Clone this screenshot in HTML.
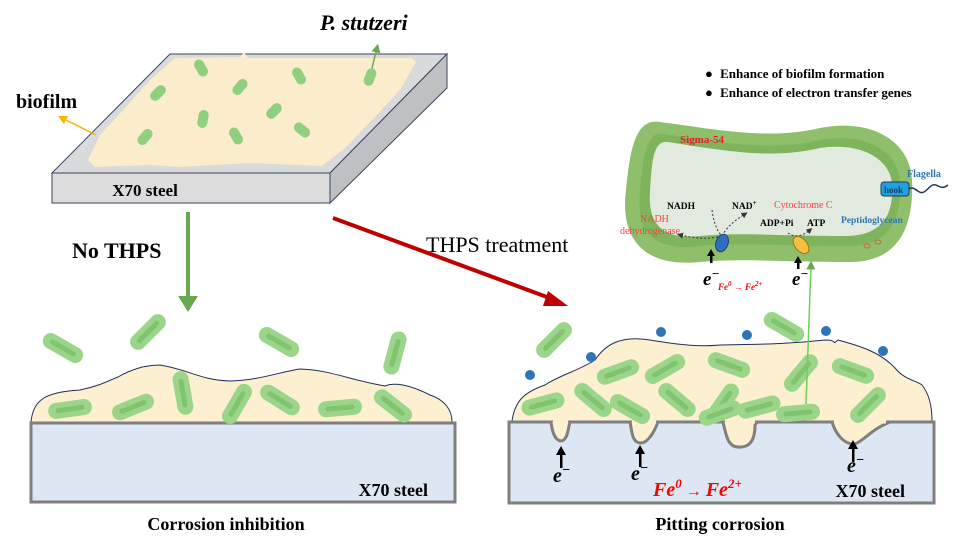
<!DOCTYPE html>
<html><head><meta charset="utf-8"><style>
html,body{margin:0;padding:0;background:#fff;width:973px;height:547px;overflow:hidden}
svg{display:block}
text{font-family:"Liberation Serif",serif;font-weight:bold}
</style></head><body>
<svg width="973" height="547" viewBox="0 0 973 547" xmlns="http://www.w3.org/2000/svg">
<defs>
<marker id="ag" markerWidth="6" markerHeight="6" refX="3" refY="3" orient="auto"><path d="M0,0L6,3L0,6z" fill="#6aa84f"/></marker>
<marker id="ay" markerWidth="6" markerHeight="6" refX="3" refY="3" orient="auto"><path d="M0,0L6,3L0,6z" fill="#f5b800"/></marker>
<marker id="ad" markerWidth="6" markerHeight="6" refX="3" refY="3" orient="auto"><path d="M0,0L6,3L0,6z" fill="#334"/></marker>
<g id="b"><line x1="-14" y1="0" x2="14" y2="0" stroke="#9ad58a" stroke-width="16" stroke-linecap="round"/><line x1="-12" y1="0" x2="12" y2="0" stroke="#80c46f" stroke-width="5" stroke-linecap="round"/></g>
<g id="s"><line x1="-4" y1="0" x2="4" y2="0" stroke="#8fd07f" stroke-width="10" stroke-linecap="round"/></g>
</defs>

<!-- top plate -->
<polygon points="170,54 447,54 330,173 52,173" fill="#d9dadc" stroke="#3a4660" stroke-width="1"/>
<polygon points="330,173 447,54 447,88 330,203" fill="#bfc0c2" stroke="#3a4660" stroke-width="1"/>
<rect x="52" y="173" width="278" height="30" fill="#dcdcdd" stroke="#3a4660" stroke-width="1"/>
<path d="M175,58 L240,57 L244,52 L248,58 L412,58 L416,62 L400,90 L370,122 L345,148 L322,166 L250,163 L180,167 L150,165 L95,167 L88,160 L100,135 L125,108 L150,80 Z" fill="#fbeccb"/>
<text x="145" y="196" font-size="17" text-anchor="middle">X70 steel</text>
<text x="16" y="108" font-size="20">biofilm</text>
<line x1="96" y1="135" x2="62" y2="118" stroke="#f5b800" stroke-width="1.5" marker-end="url(#ay)"/>
<text x="320" y="30" font-size="22" font-style="italic">P. stutzeri</text>
<line x1="370" y1="76" x2="377" y2="48" stroke="#6aa84f" stroke-width="1.5" marker-end="url(#ag)"/>
<use href="#s" transform="translate(201,68) rotate(60)"/><use href="#s" transform="translate(240,87) rotate(-50)"/>
<use href="#s" transform="translate(299,76) rotate(60)"/><use href="#s" transform="translate(370,77) rotate(-70)"/>
<use href="#s" transform="translate(158,93) rotate(-45)"/><use href="#s" transform="translate(203,119) rotate(-80)"/>
<use href="#s" transform="translate(274,111) rotate(-45)"/><use href="#s" transform="translate(145,137) rotate(-50)"/>
<use href="#s" transform="translate(236,136) rotate(60)"/><use href="#s" transform="translate(302,130) rotate(40)"/>

<!-- arrows -->
<line x1="188" y1="212" x2="188" y2="300" stroke="#6aa84f" stroke-width="4"/>
<polygon points="178,296 198,296 188,312" fill="#6aa84f"/>
<text x="72" y="258" font-size="22">No THPS</text>
<line x1="333" y1="218" x2="555" y2="300" stroke="#c00000" stroke-width="4"/>
<polygon points="548,291 568,306 543,306" fill="#c00000"/>
<text x="426" y="252" font-size="22" style="font-weight:normal">THPS treatment</text>

<!-- left panel -->
<path d="M31,422 C33,400 45,392 80,390 C100,386 110,380 118,377 C130,370 145,365 160,365 C190,370 200,380 230,381 C260,380 280,372 300,369 C330,370 350,380 385,386 C395,382 410,385 430,395 C445,400 452,410 452,422 Z" fill="#fdf0d0" stroke="#1f2f5a" stroke-width="1"/>
<rect x="31" y="423" width="424" height="79" fill="#dce7f3" stroke="#7f7f7f" stroke-width="3"/>
<text x="428" y="496" font-size="18" text-anchor="end">X70 steel</text>
<text x="226" y="530" font-size="18" text-anchor="middle">Corrosion inhibition</text>
<use href="#b" transform="translate(63,348) rotate(30)"/><use href="#b" transform="translate(148,332) rotate(-45)"/>
<use href="#b" transform="translate(279,342) rotate(30)"/><use href="#b" transform="translate(395,353) rotate(-75)"/>
<use href="#b" transform="translate(70,409) rotate(-8)"/><use href="#b" transform="translate(133,407) rotate(-22)"/>
<use href="#b" transform="translate(183,393) rotate(80)"/><use href="#b" transform="translate(237,404) rotate(-60)"/>
<use href="#b" transform="translate(280,400) rotate(32)"/><use href="#b" transform="translate(340,408) rotate(-5)"/>
<use href="#b" transform="translate(393,406) rotate(38)"/>

<!-- right panel -->
<path d="M512,421 C515,400 525,392 545,385 C560,375 580,370 595,360 C605,345 620,335 650,340 C680,345 700,347 720,345 C750,344 780,345 825,340 C840,340 830,346 838,340 C860,346 880,352 895,368 C905,380 915,380 922,385 C930,395 932,410 932,421 Z" fill="#fdf0d0" stroke="#1f2f5a" stroke-width="1"/>
<rect x="509" y="422" width="425" height="81" fill="#dce7f3" stroke="#7f7f7f" stroke-width="3"/>
<g fill="#fdf0d0" stroke="#7f7f7f" stroke-width="3">
<path d="M551,422 C552,430 554,440 561,441 C568,440 568,428 570,422"/>
<path d="M630,422 C632,432 632,442 640,443 C648,444 655,430 658,422"/>
<path d="M723,422 C726,435 728,447 738,447 C750,448 755,440 755,425 L757,422"/>
<path d="M832,422 C836,435 845,445 855,444 C865,440 870,430 890,422"/>
</g>
<g stroke="#fdf0d0" stroke-width="3"><line x1="553" y1="422" x2="568" y2="422"/><line x1="632" y1="422" x2="656" y2="422"/><line x1="725" y1="422" x2="755" y2="422"/><line x1="834" y1="422" x2="886" y2="422"/></g>
<use href="#b" transform="translate(554,340) rotate(-45)"/><use href="#b" transform="translate(784,327) rotate(30)"/>
<use href="#b" transform="translate(543,404) rotate(-15)"/><use href="#b" transform="translate(593,400) rotate(40)"/>
<use href="#b" transform="translate(630,409) rotate(30)"/><use href="#b" transform="translate(618,372) rotate(-20)"/>
<use href="#b" transform="translate(677,400) rotate(40)"/><use href="#b" transform="translate(665,369) rotate(-30)"/>
<use href="#b" transform="translate(729,365) rotate(20)"/><use href="#b" transform="translate(723,403) rotate(-55)"/>
<use href="#b" transform="translate(759,407) rotate(-15)"/><use href="#b" transform="translate(798,413) rotate(-5)"/>
<use href="#b" transform="translate(801,373) rotate(-50)"/><use href="#b" transform="translate(853,371) rotate(20)"/>
<use href="#b" transform="translate(868,405) rotate(-45)"/><use href="#b" transform="translate(720,413) rotate(-20)"/>
<g fill="#2f75b5"><circle cx="530" cy="375" r="5"/><circle cx="591" cy="357" r="5"/><circle cx="661" cy="332" r="5"/><circle cx="747" cy="335" r="5"/><circle cx="826" cy="331" r="5"/><circle cx="883" cy="351" r="5"/></g>
<line x1="806" y1="404" x2="811" y2="265" stroke="#6ccf5a" stroke-width="1.5" marker-end="url(#ag)"/>
<g fill="#000"><polygon points="561,446 556,455 566,455"/><rect x="560" y="454" width="2.5" height="14"/>
<polygon points="640,445 635,454 645,454"/><rect x="639" y="453" width="2.5" height="14"/>
<polygon points="853,440 848,449 858,449"/><rect x="852" y="448" width="2.5" height="14"/></g>
<text x="553" y="482" font-size="20" font-style="italic">e<tspan dy="-8" font-size="14">−</tspan></text>
<text x="631" y="480" font-size="20" font-style="italic">e<tspan dy="-8" font-size="14">−</tspan></text>
<text x="847" y="472" font-size="20" font-style="italic">e<tspan dy="-8" font-size="14">−</tspan></text>
<text x="653" y="496" font-size="20" font-style="italic" fill="#ff0000">Fe<tspan dy="-8" font-size="13">0</tspan><tspan dy="8" font-style="normal" font-size="16"> → </tspan>Fe<tspan dy="-8" font-size="13">2+</tspan></text>
<text x="905" y="497" font-size="18" text-anchor="end">X70 steel</text>
<text x="720" y="530" font-size="18" text-anchor="middle">Pitting corrosion</text>

<!-- cell -->
<text x="705" y="78" font-size="13">● <tspan dx="4">Enhance of biofilm formation</tspan></text>
<text x="705" y="97" font-size="13">● <tspan dx="4">Enhance of electron transfer genes</tspan></text>
<path d="M660,122 C720,130 770,140 820,128 C870,118 910,140 912,180 C914,225 900,262 850,262 C780,262 740,258 700,262 C640,268 620,235 626,190 C630,150 635,118 660,122 Z" fill="#8fbf6a"/>
<path d="M664,134 C720,142 770,152 820,140 C865,132 898,150 900,182 C902,218 890,246 848,246 C780,246 740,242 700,246 C650,252 636,228 640,192 C643,160 645,130 664,134 Z" fill="#7fb45c"/>
<path d="M668,142 C720,150 770,160 820,148 C860,142 890,158 892,184 C894,215 882,236 845,236 C780,236 740,232 700,236 C660,240 648,222 650,192 C652,165 652,140 668,142 Z" fill="#e2eadf"/>
<text x="680" y="143" font-size="11" fill="#e8202a">Sigma-54</text>
<text x="907" y="177" font-size="10" fill="#2f75b5">Flagella</text>
<rect x="881" y="182" width="28" height="14" rx="3" fill="#1da1e0" stroke="#1f3a5a"/>
<text x="884" y="193" font-size="9" fill="#1f3a5a">hook</text>
<path d="M909,189 C915,185 918,195 924,192 C930,188 932,182 938,186 C942,188 944,188 948,185" stroke="#1f3a5a" stroke-width="1.5" fill="none"/>
<text x="667" y="209" font-size="9.5">NADH</text>
<text x="732" y="209" font-size="9.5">NAD<tspan dy="-4" font-size="7">+</tspan></text>
<text x="774" y="208" font-size="10" fill="#ff4040" style="font-weight:normal">Cytochrome C</text>
<text x="841" y="223" font-size="9.5" fill="#2f75b5">Peptidoglycean</text>
<text x="640" y="222" font-size="10" fill="#ff4040" style="font-weight:normal">NADH</text>
<text x="620" y="234" font-size="10" fill="#ff4040" style="font-weight:normal">dehydrogenase</text>
<text x="760" y="226" font-size="9.5">ADP+Pi</text>
<text x="807" y="226" font-size="9.5">ATP</text>
<path d="M712,210 C714,225 718,232 722,236" stroke="#334" stroke-dasharray="2,2" fill="none"/>
<path d="M722,236 C728,225 736,220 745,214" stroke="#334" stroke-dasharray="2,2" fill="none" marker-end="url(#ad)"/>
<path d="M722,236 C705,240 695,238 680,235" stroke="#334" stroke-dasharray="2,2" fill="none" marker-end="url(#ad)"/>
<path d="M788,233 C795,238 803,236 810,230" stroke="#334" stroke-dasharray="2,2" fill="none" marker-end="url(#ad)"/>
<ellipse cx="722" cy="243" rx="6" ry="9" fill="#2f6fc0" stroke="#1f3a7a" transform="rotate(20 722 243)"/>
<ellipse cx="801" cy="245" rx="6" ry="10" fill="#f5c040" stroke="#a07020" transform="rotate(-40 801 245)"/>
<g fill="none" stroke="#c0703a"><ellipse cx="867" cy="246" rx="3" ry="2"/><ellipse cx="878" cy="242" rx="3" ry="2"/></g>
<g fill="#000"><polygon points="711,249 707,256 715,256"/><rect x="710" y="255" width="2.5" height="8"/>
<polygon points="798,256 794,263 802,263"/><rect x="797" y="262" width="2.5" height="7"/></g>
<text x="703" y="285" font-size="19" font-style="italic">e<tspan dy="-7" font-size="13">−</tspan></text>
<text x="792" y="285" font-size="19" font-style="italic">e<tspan dy="-7" font-size="13">−</tspan></text>
<text x="718" y="290" font-size="9" font-style="italic" fill="#ff0000">Fe<tspan dy="-4" font-size="7">0</tspan><tspan dy="4"> → </tspan>Fe<tspan dy="-4" font-size="7">2+</tspan></text>
</svg>
</body></html>
